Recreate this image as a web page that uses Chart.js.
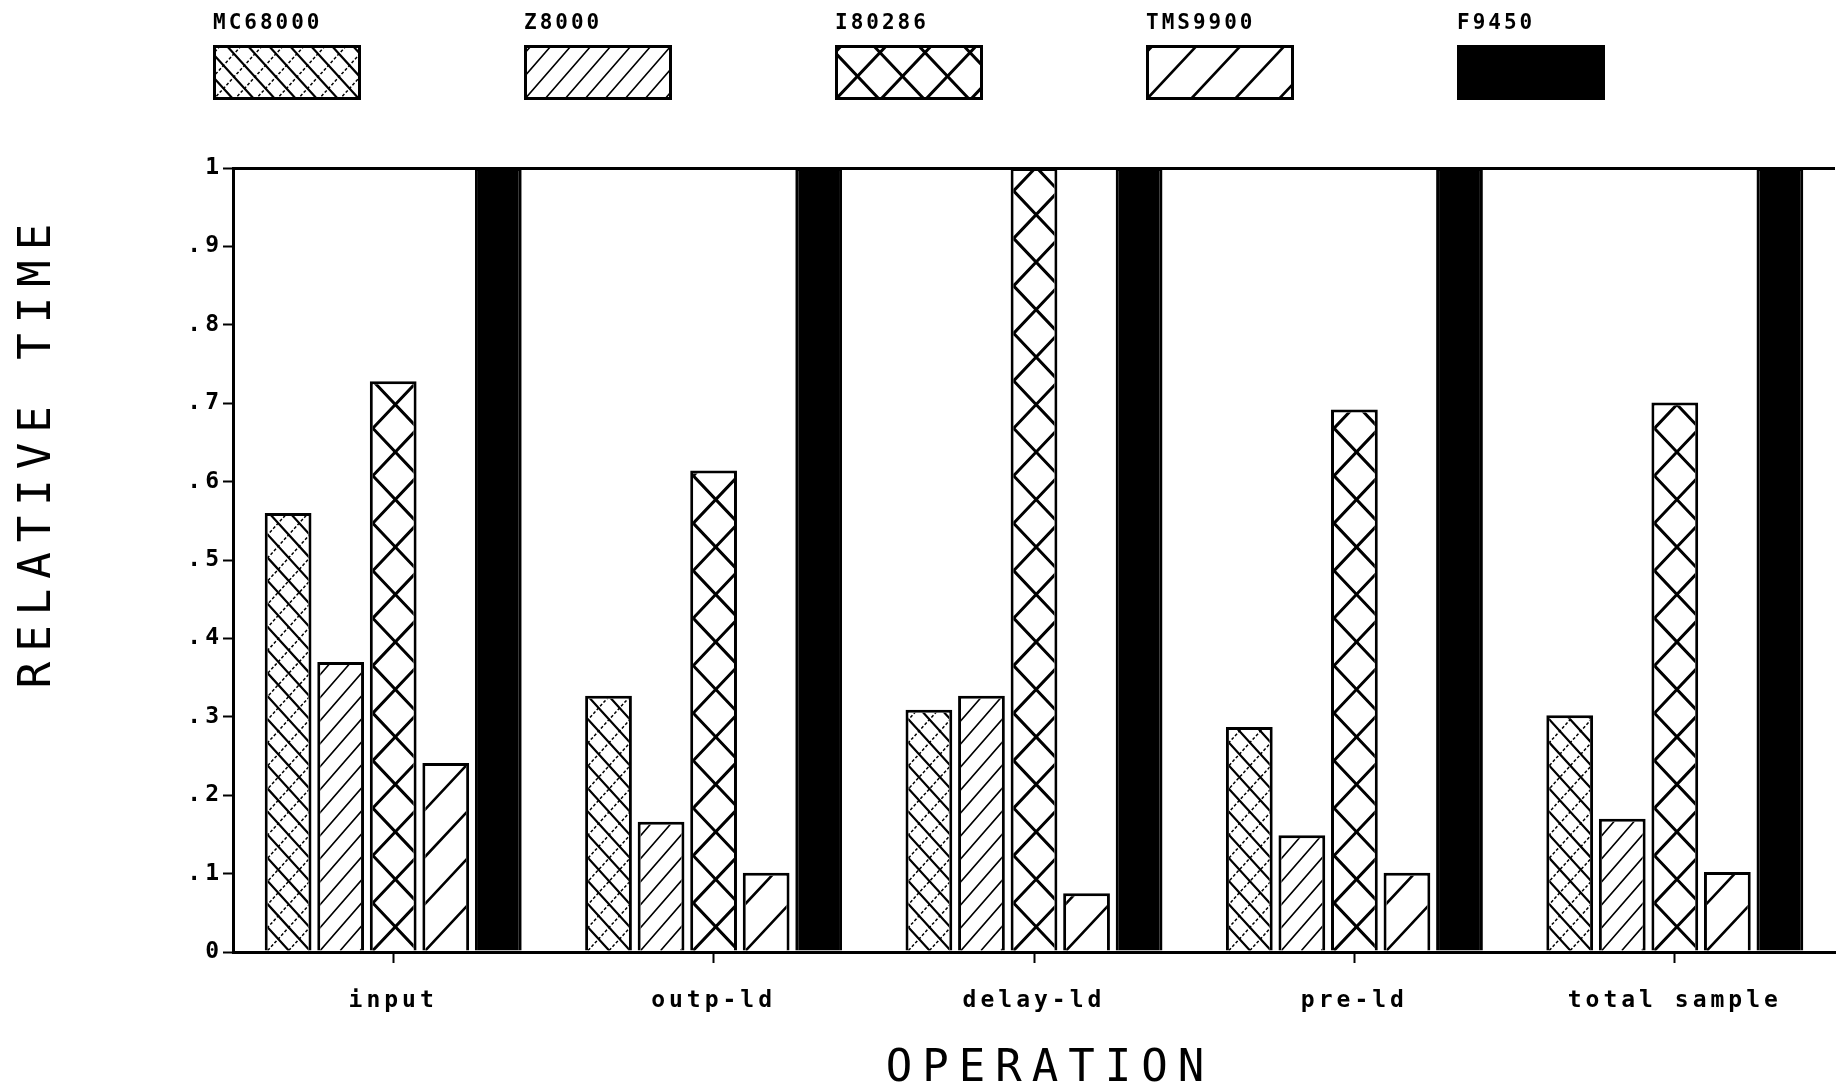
<!DOCTYPE html>
<html>
<head>
<meta charset="utf-8">
<script src="https://cdn.jsdelivr.net/npm/chart.js@4.4.1/dist/chart.umd.min.js"></script>
<style>
  html, body { margin: 0; padding: 0; background: #fff; }
  #wrap { width: 1839px; height: 1090px; }
</style>
</head>
<body>
<div id="wrap"><canvas id="bar" width="1839" height="1090"></canvas></div>
<script>
// data
var categories = ["input", "outp-ld", "delay-ld", "pre-ld", "total sample"];
var seriesNames = ["MC68000", "Z8000", "I80286", "TMS9900", "F9450"];
var mc68000 = [0.56, 0.327, 0.309, 0.287, 0.302];
var z8000 = [0.37, 0.166, 0.327, 0.149, 0.17];
var i80286 = [0.728, 0.614, 1.0, 0.692, 0.701];
var tms9900 = [0.241, 0.101, 0.075, 0.101, 0.102];
var f9450 = [1, 1, 1, 1, 1];
var yTickLabels = ["0", ".1", ".2", ".3", ".4", ".5", ".6", ".7", ".8", ".9", "1"];

var seriesValues = [mc68000, z8000, i80286, tms9900, f9450];
var hatchKinds = ["fineCross", "fineSlash", "bigCross", "wideSlash", "solid"];

// hatch styles: p = horizontal period, s = slope
var HATCH = {
  fineCross: { p: 21, s: 1.1, fwd: { lw: 1.5, dash: [3, 2] }, back: { lw: 2.2 } },
  fineSlash: { p: 20, s: 1.15, fwd: { lw: 1.6 } },
  bigCross: { p: 45, s: 1.055, fwd: { lw: 3 }, back: { lw: 3 } },
  wideSlash: { p: 44, s: 1.07, fwd: { lw: 2.6 } }
};

function hatchLines(ctx, dir, left, base, w, h, p, s) {
  var L = w + h / s + p;
  var n0 = dir > 0 ? -Math.ceil(h / s / p) - 1 : -1;
  var n1 = dir > 0 ? Math.ceil(w / p) + 1 : Math.ceil((w + h / s) / p) + 1;
  ctx.beginPath();
  for (var k = n0; k <= n1; k++) {
    var x = left + k * p;
    ctx.moveTo(x, base);
    ctx.lineTo(x + dir * L, base - s * L);
  }
  ctx.stroke();
}

function drawHatch(ctx, kind, left, top, w, h) {
  var spec = HATCH[kind];
  if (!spec || h <= 0) return;
  var base = top + h;
  ctx.save();
  ctx.beginPath();
  ctx.rect(left, top, w, h);
  ctx.clip();
  ctx.strokeStyle = "#000";
  ctx.lineCap = "butt";
  if (spec.fwd) {
    ctx.lineWidth = spec.fwd.lw;
    ctx.setLineDash(spec.fwd.dash || []);
    hatchLines(ctx, 1, left, base, w, h, spec.p, spec.s);
  }
  if (spec.back) {
    ctx.lineWidth = spec.back.lw;
    ctx.setLineDash(spec.back.dash || []);
    hatchLines(ctx, -1, left, base, w, h, spec.p, spec.s);
  }
  ctx.restore();
}

// hatching inside each bar, using the bar geometry from the chart
var hatchPlugin = {
  id: "hatch",
  afterDatasetsDraw: function (chart) {
    var ctx = chart.ctx;
    var bw = 3;
    chart.data.datasets.forEach(function (ds, di) {
      var kind = hatchKinds[di];
      chart.getDatasetMeta(di).data.forEach(function (bar) {
        var p = bar.getProps(["x", "y", "base", "width"], true);
        var left = p.x - p.width / 2 + bw;
        var w = p.width - 2 * bw;
        var top = p.y + bw;
        var h = p.base - top;
        drawHatch(ctx, kind, left, top, w, h);
      });
    });
  }
};

// legend (label above box) and axis titles
var decorPlugin = {
  id: "decor",
  beforeDraw: function (chart) {
    chart.ctx.letterSpacing = "4px";
  },
  afterDraw: function (chart) {
    var ctx = chart.ctx;
    ctx.save();
    ctx.fillStyle = "#000";
    ctx.strokeStyle = "#000";

    // legend
    ctx.letterSpacing = "3px";
    ctx.font = "bold 21px 'DejaVu Sans Mono'";
    ctx.textAlign = "left";
    ctx.textBaseline = "alphabetic";
    chart.data.datasets.forEach(function (ds, i) {
      var x = 213 + i * 311;
      ctx.fillText(ds.label, x, 29);
      var bx = x, by = 45, bwid = 148, bh = 55;
      ctx.fillStyle = hatchKinds[i] === "solid" ? "#000" : "#fff";
      ctx.fillRect(bx, by, bwid, bh);
      drawHatch(ctx, hatchKinds[i], bx, by, bwid, bh);
      ctx.lineWidth = 3;
      ctx.strokeRect(bx + 1.5, by + 1.5, bwid - 3, bh - 3);
      ctx.fillStyle = "#000";
    });

    // axis titles
    ctx.font = "44px 'DejaVu Sans Mono'";
    ctx.letterSpacing = "10px";
    ctx.textAlign = "center";
    ctx.textBaseline = "middle";
    ctx.fillText("OPERATION", 1050, 1070);
    ctx.translate(39, 456);
    ctx.rotate(-Math.PI / 2);
    ctx.fillText("RELATIVE TIME", 5, 0);
    ctx.restore();
  }
};

var datasets = seriesNames.map(function (name, i) {
  return {
    label: name,
    data: seriesValues[i],
    backgroundColor: hatchKinds[i] === "solid" ? "#000" : "#fff",
    borderColor: "#000",
    borderWidth: 3,
    categoryPercentage: 0.82,
    barPercentage: 0.89
  };
});

var ctx1 = document.getElementById("bar").getContext("2d");
var myChart1 = new Chart(ctx1, {
  type: "bar",
  data: {
    labels: categories,
    datasets: datasets
  },
  options: {
    responsive: false,
    animation: false,
    layout: {
      padding: { top: 168, right: 4, left: 0, bottom: 0 }
    },
    plugins: {
      legend: { display: false },
      tooltip: { enabled: false }
    },
    scales: {
      x: {
        afterFit: function (s) { s.height = 138; },
        grid: {
          offset: false,
          drawOnChartArea: false,
          drawTicks: true,
          tickLength: 11,
          tickColor: "#000",
          tickWidth: 2
        },
        border: { color: "#000", width: 3 },
        ticks: {
          color: "#000",
          padding: 24,
          maxRotation: 0,
          font: { family: "DejaVu Sans Mono", size: 23, weight: "bold" }
        }
      },
      y: {
        min: 0,
        max: 1,
        afterFit: function (s) { s.width = 233; },
        grid: {
          drawOnChartArea: true,
          color: function (c) {
            return c.tick && c.tick.value === 1 ? "#000" : "rgba(0,0,0,0)";
          },
          lineWidth: 3,
          tickLength: 10,
          tickColor: "#000",
          tickWidth: 2
        },
        border: { color: "#000", width: 3 },
        ticks: {
          stepSize: 0.1,
          color: "#000",
          padding: 0,
          font: { family: "DejaVu Sans Mono", size: 23, weight: "bold" },
          callback: function (v, idx) { return yTickLabels[idx]; }
        }
      }
    }
  },
  plugins: [hatchPlugin, decorPlugin]
});
</script>
</body>
</html>
